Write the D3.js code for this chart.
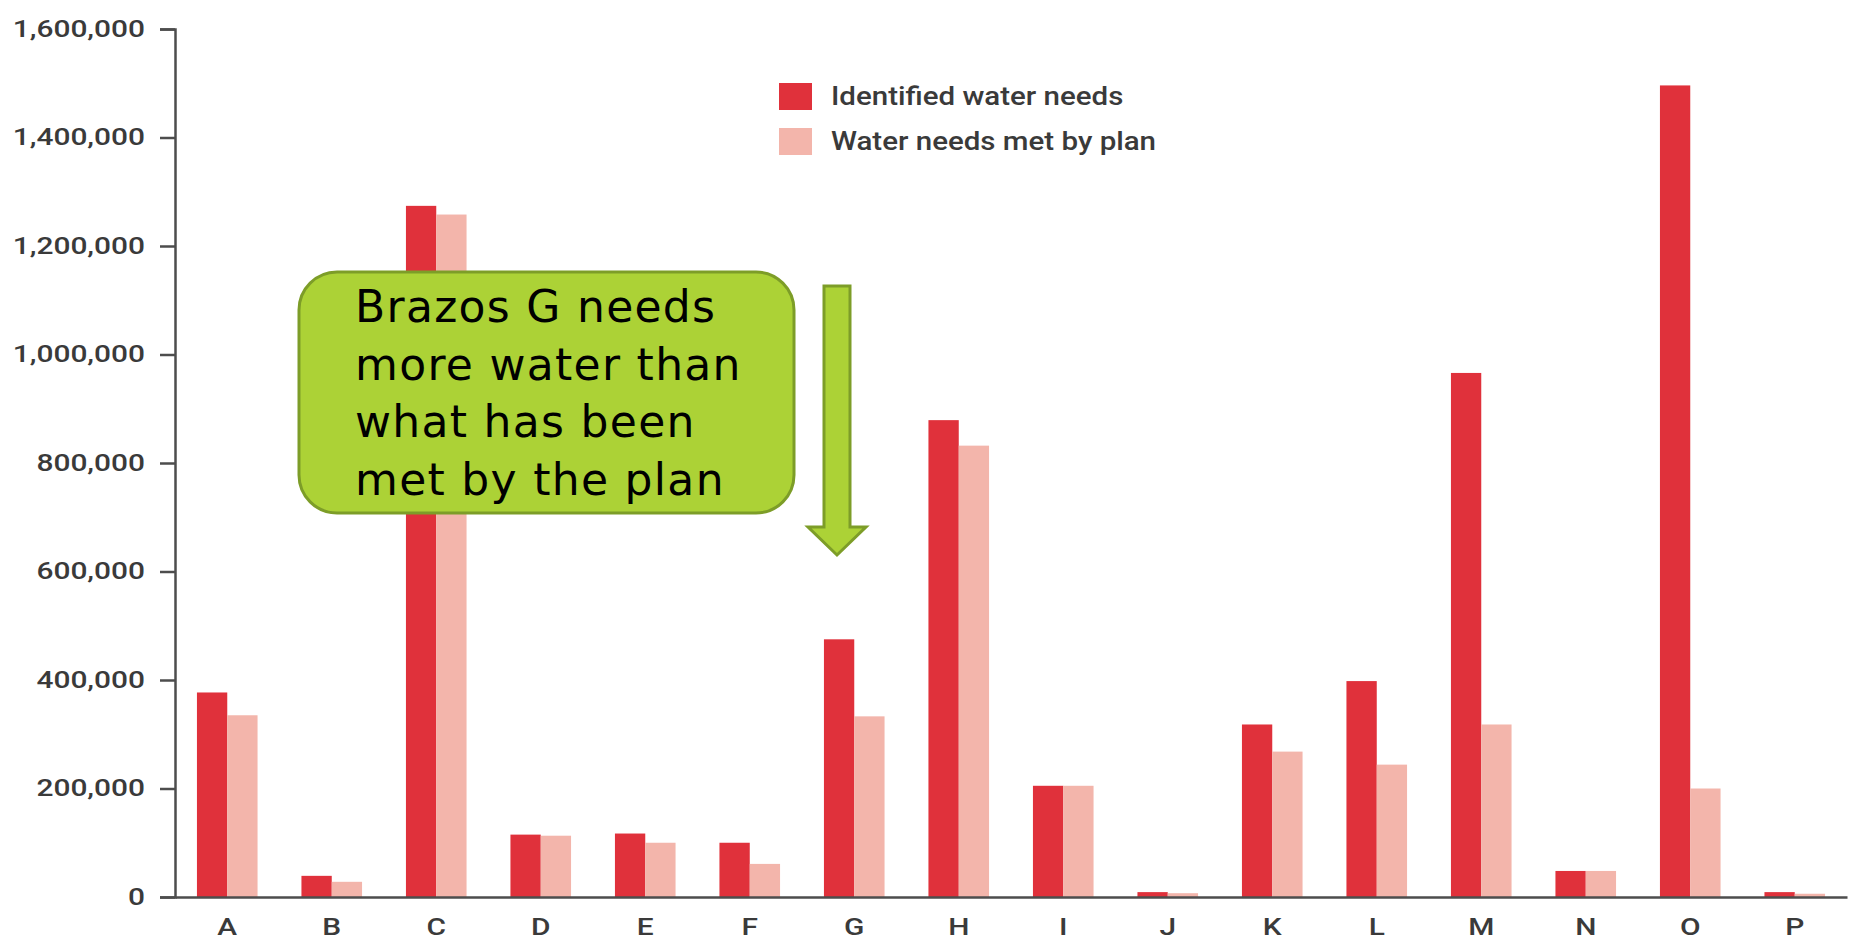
<!DOCTYPE html>
<meta charset="utf-8">
<script src="https://d3js.org/d3.v7.min.js"></script>
<style>
  body { margin: 0; background: #fff; }
  svg { display: block; }
</style>
<div id="chart"></div>
<script>

// data
var regions = ["A","B","C","D","E","F","G","H","I","J","K","L","M","N","O","P"];
var identifiedNeeds = [377000, 39000, 1274000, 115000, 117000, 100000, 475000, 879000, 205000, 9000, 318000, 398000, 966000, 48000, 1496000, 9000];
var needsMetByPlan  = [335000, 28000, 1258000, 113000, 100000, 61000, 333000, 832000, 205000, 7000, 268000, 244000, 318000, 48000, 200000, 6000];
var seriesNames = ["Identified water needs", "Water needs met by plan"];
var seriesColors = ["#e0313b", "#f3b5ab"];
var yTicks = [0, 200000, 400000, 600000, 800000, 1000000, 1200000, 1400000, 1600000];
var calloutLines = ["Brazos G needs", "more water than", "what has been", "met by the plan"];

var W = 1856, H = 951;
var plotLeft = 175, plotRight = 1847, plotTop = 29, plotBottom = 897;
var stretch = 1.3; // the source chart is stretched sideways

var svg = d3.select("#chart").append("svg")
  .attr("width", W)
  .attr("height", H);

var x = d3.scaleBand()
  .domain(regions)
  .range([plotLeft, plotRight])
  .paddingInner(0.42)
  .paddingOuter(0.21);

var xSub = d3.scaleBand()
  .domain([0, 1])
  .range([0, x.bandwidth()]);

var y = d3.scaleLinear()
  .domain([0, 1600000])
  .range([plotBottom, plotTop]);

var rows = regions.map(function(r, i) {
  return { region: r, values: [identifiedNeeds[i], needsMetByPlan[i]] };
});

// bars
var groups = svg.append("g").selectAll("g")
  .data(rows)
  .enter().append("g")
    .attr("transform", function(d) { return "translate(" + x(d.region) + ",0)"; });

groups.selectAll("rect")
  .data(function(d) { return d.values; })
  .enter().append("rect")
    .attr("x", function(d, i) { return xSub(i); })
    .attr("y", function(d) { return y(d); })
    .attr("width", xSub.bandwidth())
    .attr("height", function(d) { return plotBottom - y(d); })
    .attr("fill", function(d, i) { return seriesColors[i]; });

// X axis
var xAxis = svg.append("g")
  .attr("transform", "translate(0," + plotBottom + ")")
  .call(d3.axisBottom(x).tickSize(0).tickPadding(22).tickSizeOuter(0));

xAxis.select(".domain").attr("stroke", "#4d4d4d").attr("stroke-width", 2.5);
xAxis.selectAll(".tick text")
  .attr("font-family", "Roboto")
  .attr("font-size", 23)
  .attr("font-weight", 500)
  .attr("fill", "#3a3a3a")
  .attr("transform", "scale(" + stretch + ",1)");

// Y axis
var yAxis = svg.append("g")
  .attr("transform", "translate(" + plotLeft + ",0)")
  .call(d3.axisLeft(y).tickValues(yTicks).tickFormat(d3.format(",")).tickSize(15).tickPadding(15));

yAxis.select(".domain").attr("stroke", "#4d4d4d").attr("stroke-width", 2.5);
yAxis.selectAll(".tick line").attr("stroke", "#4d4d4d").attr("stroke-width", 2.5);
yAxis.selectAll(".tick text")
  .attr("font-family", "Roboto")
  .attr("font-size", 23)
  .attr("font-weight", 500)
  .attr("fill", "#3a3a3a")
  .attr("x", -30 / stretch)
  .attr("transform", "scale(" + stretch + ",1)");

// legend
var legend = svg.append("g").attr("transform", "translate(779,83)");
seriesNames.forEach(function(name, i) {
  var row = legend.append("g").attr("transform", "translate(0," + (i * 45) + ")");
  row.append("rect")
    .attr("width", 33)
    .attr("height", 27)
    .attr("fill", seriesColors[i]);
  row.append("text")
    .attr("x", 52 / 1.18)
    .attr("y", 22)
    .attr("transform", "scale(1.18,1)")
    .attr("font-family", "Roboto")
    .attr("font-size", 25)
    .attr("font-weight", 500)
    .attr("fill", "#3a3a3a")
    .text(name);
});

// callout box
var callout = svg.append("g");
callout.append("rect")
  .attr("x", 299)
  .attr("y", 272)
  .attr("width", 495)
  .attr("height", 241)
  .attr("rx", 38)
  .attr("fill", "#acd236")
  .attr("stroke", "#7d9d28")
  .attr("stroke-width", 3);

callout.selectAll("text")
  .data(calloutLines)
  .enter().append("text")
    .attr("x", 355)
    .attr("y", function(d, i) { return 322 + i * 57.7; })
    .attr("font-family", "DejaVu Sans")
    .attr("font-size", 44)
    .attr("letter-spacing", 1.3)
    .attr("fill", "#000")
    .text(function(d) { return d; });

// arrow pointing down at region G
var arrow = d3.path();
arrow.moveTo(824, 286);
arrow.lineTo(850, 286);
arrow.lineTo(850, 527);
arrow.lineTo(866, 527);
arrow.lineTo(837, 555);
arrow.lineTo(808, 527);
arrow.lineTo(824, 527);
arrow.closePath();
svg.append("path")
  .attr("d", arrow.toString())
  .attr("fill", "#acd236")
  .attr("stroke", "#7d9d28")
  .attr("stroke-width", 3);

</script>
